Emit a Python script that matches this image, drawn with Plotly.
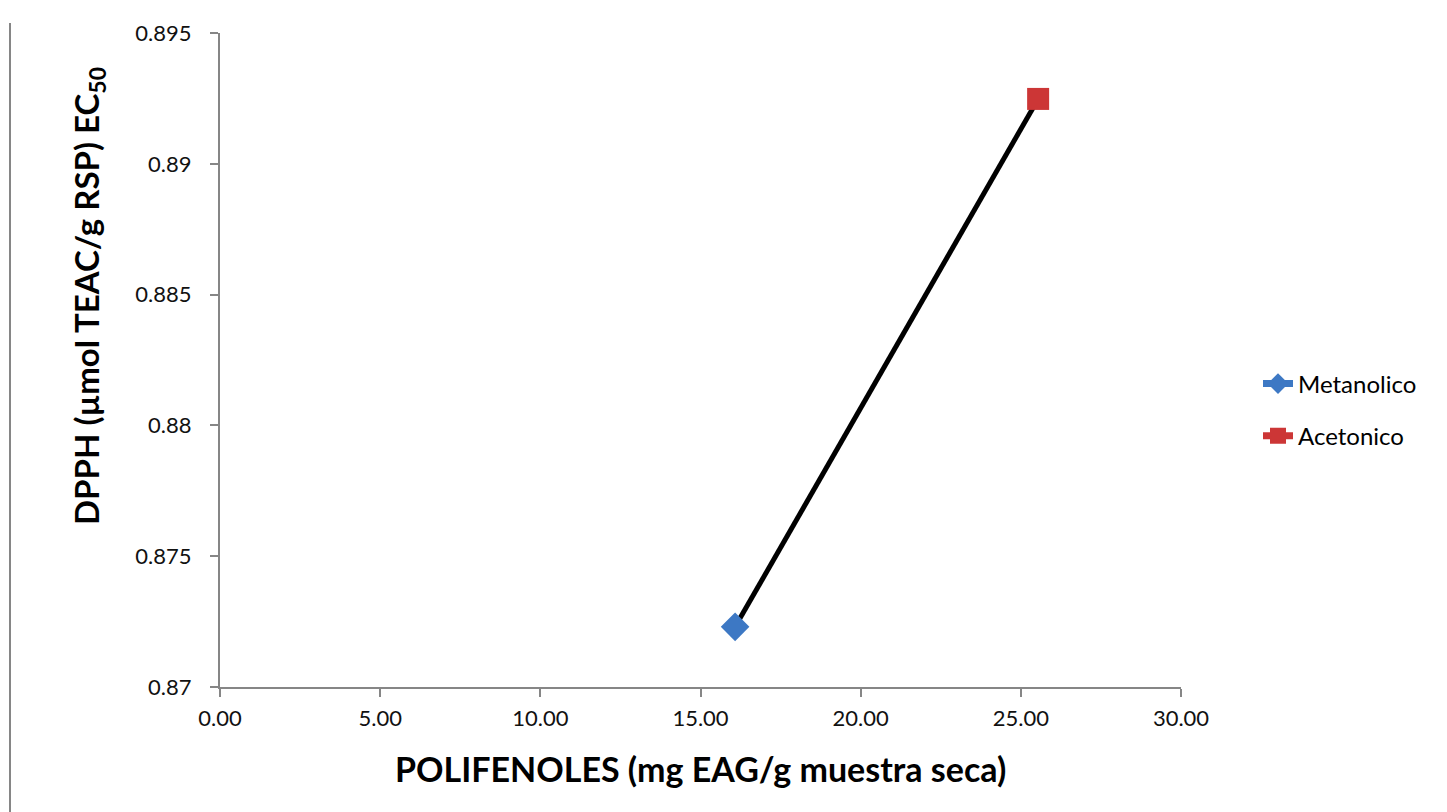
import plotly.graph_objects as go

series_names = ["Metanolico", "Acetonico"]
polifenoles = [16.08, 25.54]
dpph = [0.8723, 0.89248]
colors = ["#3D78C4", "#CC3636"]
symbols = ["diamond", "square"]
marker_sizes = [22, 22]

x_ticks = [0, 5, 10, 15, 20, 25, 30]
y_ticks = [0.87, 0.875, 0.88, 0.885, 0.89, 0.895]

x_title = "<b>POLIFENOLES (mg EAG/g muestra seca)</b>"
y_title = "<b>DPPH (µmol TEAC/g RSP) EC<sub>50</sub></b>"

FONT = "Lato, 'Open Sans', sans-serif"

L, R, T, B = 212, 274, 25, 133
PW, PH = 1447 - L - R, 812 - T - B
OFF = 8  # page body offset


def px_x(p):  # page pixel -> paper x
    return (p - OFF - L) / PW


def px_y(p):  # page pixel -> paper y
    return (812 - B - (p - OFF)) / PH


fig = go.Figure()

# trend line connecting the two extracts
fig.add_trace(go.Scatter(
    x=polifenoles, y=dpph, mode="lines",
    line=dict(color="black", width=5), showlegend=False, hoverinfo="skip"))

for name, xv, yv, c, s, ms in zip(series_names, polifenoles, dpph, colors, symbols, marker_sizes):
    fig.add_trace(go.Scatter(
        x=[xv], y=[yv], mode="lines+markers", name=name, legendgroup=name,
        line=dict(color=c, width=7),
        marker=dict(symbol=s, size=ms, color=c, line=dict(width=0))))

axis_common = dict(
    showgrid=False, zeroline=False, showline=True, linecolor="#868686", linewidth=2,
    ticks="outside", tickcolor="#868686", ticklen=8, tickwidth=2)

fig.update_xaxes(
    range=[0, 30], tickvals=x_ticks, tickformat=".2f",
    tickfont=dict(family=FONT, size=22, color="#111"), ticklabelstandoff=3,
    **axis_common)
fig.update_yaxes(
    range=[0.87, 0.895], tickvals=y_ticks, ticktext=[f"{v:g}" for v in y_ticks],
    tickfont=dict(family=FONT, size=22, color="#111"), ticklabelstandoff=14,
    **axis_common)

fig.add_annotation(text=x_title, xref="paper", yref="paper",
                   x=px_x(700), y=px_y(768), xanchor="center", yanchor="middle",
                   showarrow=False, font=dict(family=FONT, size=34, color="black"))
fig.add_annotation(text=y_title, xref="paper", yref="paper", textangle=-90,
                   x=px_x(88), y=px_y(296), xanchor="center", yanchor="middle",
                   showarrow=False, font=dict(family=FONT, size=33, color="black"))

fig.add_shape(type="line", xref="paper", yref="paper",
              x0=px_x(10), x1=px_x(10), y0=-(B + 10) / PH, y1=1 + 10 / PH,
              line=dict(color="#868686", width=2))

fig.update_layout(
    width=1447, height=812,
    margin=dict(l=L, r=R, t=T, b=B),
    plot_bgcolor="white", paper_bgcolor="white",
    legend=dict(x=px_x(1258), y=px_y(410), xanchor="left", yanchor="middle",
                traceorder="grouped", tracegroupgap=18,
                font=dict(family=FONT, size=24, color="black"),
                bgcolor="rgba(0,0,0,0)"),
    font=dict(family=FONT, size=22))

fig.write_html("out.html")
